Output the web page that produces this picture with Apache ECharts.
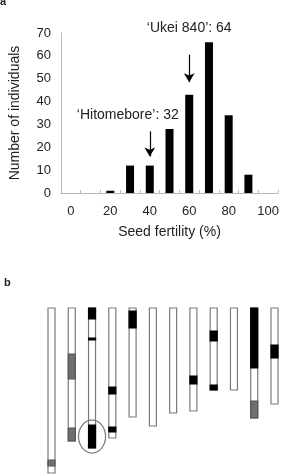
<!DOCTYPE html>
<html>
<head>
<meta charset="utf-8">
<style>
  html, body { margin: 0; padding: 0; background: #fff; }
  #main { width: 282px; height: 475px; }
</style>
<script src="https://cdn.jsdelivr.net/npm/echarts/dist/echarts.min.js"></script>
</head>
<body>
<div id="main"></div>
<script>
// panel a: histogram of seed fertility
var fertility = ['0', '10', '20', '30', '40', '50', '60', '70', '80', '90', '100'];
var individuals = [0, 0, 1, 12, 12, 28, 43, 66, 34, 8, 0];
var yTicks = [0, 10, 20, 30, 40, 50, 60, 70];

// panel b: chromosome bars, positions counted from the top
var chrNo = [1, 2, 3, 4, 5, 6, 7, 8, 9, 10, 11, 12];
var chrLength = [165, 133, 140, 130, 109, 118, 105, 103, 82, 82, 110, 96];
var blackSegs = [[3, 0, 11], [3, 30, 32], [3, 117, 140], [4, 79, 86], [4, 119, 124], [5, 3, 20],
                 [8, 68, 76], [9, 23, 33], [9, 77, 82], [11, 0, 60], [12, 37, 50]];
var graySegs = [[1, 152, 158], [2, 46, 71], [2, 120, 133], [11, 93, 110]];
var circled = [[3, 117, 140]];

var font = 'Liberation Sans, Arial, sans-serif';
var txt = '#222';
var axisGray = '#b8b8b8';

function chrRect(api, col, y0, y1, fill, stroke) {
    var p0 = api.coord([col, y0]);
    var p1 = api.coord([col, y1]);
    return {
        type: 'rect',
        shape: { x: p0[0] - 3.5, y: p0[1], width: 7, height: p1[1] - p0[1] },
        style: { fill: fill, stroke: stroke, lineWidth: 1.2 }
    };
}

var myChart = echarts.init(document.getElementById('main'), null, { renderer: 'canvas' });
var option = {
    backgroundColor: '#fff',
    animation: false,
    textStyle: { fontFamily: font },
    grid: [
        { left: 58, right: 4, top: 33, bottom: 282 },
        { left: 51.5, right: 7.5, top: 308, bottom: 1 }
    ],
    xAxis: [
        {
            gridIndex: 0,
            type: 'category',
            data: fertility,
            name: 'Seed fertility (%)',
            nameLocation: 'middle',
            nameGap: 32,
            nameTextStyle: { color: txt, fontSize: 14, fontFamily: font },
            axisLine: { lineStyle: { color: axisGray, width: 1 } },
            axisTick: { show: true, inside: true, length: 3, interval: 0, lineStyle: { color: axisGray } },
            axisLabel: { interval: 1, color: txt, fontSize: 13, margin: 12, fontFamily: font },
            splitLine: { show: false }
        },
        { gridIndex: 1, type: 'value', min: 1, max: 12, show: false }
    ],
    yAxis: [
        {
            gridIndex: 0,
            type: 'value',
            min: yTicks[0],
            max: yTicks[yTicks.length - 1],
            interval: 10,
            name: 'Number of individuals',
            nameLocation: 'middle',
            nameGap: 39,
            nameTextStyle: { color: txt, fontSize: 14, fontFamily: font },
            axisLine: { show: true, lineStyle: { color: axisGray, width: 1 } },
            axisTick: { show: false },
            axisLabel: { color: txt, fontSize: 13, margin: 10, fontFamily: font },
            splitLine: { show: false }
        },
        { gridIndex: 1, type: 'value', min: 0, max: 166, inverse: true, show: false }
    ],
    series: [
        {
            type: 'bar',
            xAxisIndex: 0,
            yAxisIndex: 0,
            data: individuals,
            barWidth: 8,
            itemStyle: { color: '#000' },
            markLine: {
                silent: true,
                symbol: ['none', 'arrow'],
                symbolSize: [8, 9],
                label: { show: false },
                lineStyle: { color: '#000', width: 1.2, type: 'solid' },
                data: [
                    [{ coord: ['40', 27] }, { coord: ['40', 16] }],
                    [{ coord: ['60', 60.5] }, { coord: ['60', 48.5] }]
                ]
            },
            markPoint: {
                silent: true,
                symbol: 'circle',
                symbolSize: 0,
                label: { show: true, color: txt, fontSize: 14, fontFamily: font },
                data: [
                    { coord: ['40', 34], label: { formatter: '\u2018Hitomebore\u2019: 32', offset: [-22, 0] } },
                    { coord: ['60', 69], label: { formatter: '\u2018Ukei 840\u2019: 64', offset: [0, -7] } }
                ]
            }
        },
        {
            // chromosome outlines
            type: 'custom',
            xAxisIndex: 1,
            yAxisIndex: 1,
            data: chrNo.map(function (c, i) { return [c, 0, chrLength[i]]; }),
            renderItem: function (params, api) {
                return chrRect(api, api.value(0), api.value(1), api.value(2), '#fff', '#7a7a7a');
            }
        },
        {
            type: 'custom',
            xAxisIndex: 1,
            yAxisIndex: 1,
            data: graySegs,
            renderItem: function (params, api) {
                return chrRect(api, api.value(0), api.value(1), api.value(2), '#6f6f6f', '#555');
            }
        },
        {
            type: 'custom',
            xAxisIndex: 1,
            yAxisIndex: 1,
            data: blackSegs,
            renderItem: function (params, api) {
                return chrRect(api, api.value(0), api.value(1), api.value(2), '#000', '#000');
            }
        },
        {
            // ellipse round the marked segment
            type: 'custom',
            xAxisIndex: 1,
            yAxisIndex: 1,
            data: circled,
            renderItem: function (params, api) {
                var c = api.coord([api.value(0), (api.value(1) + api.value(2)) / 2]);
                var pts = [];
                for (var k = 0; k < 48; k++) {
                    var a = k / 48 * Math.PI * 2;
                    pts.push([c[0] + 13.5 * Math.cos(a), c[1] + 16.5 * Math.sin(a)]);
                }
                return {
                    type: 'polygon',
                    shape: { points: pts },
                    style: { fill: 'none', stroke: '#777', lineWidth: 1.2 }
                };
            }
        }
    ],
    graphic: [
        { type: 'text', left: 0, top: -4, style: { text: 'a', fill: '#222', font: 'bold 11px ' + font } },
        { type: 'text', left: 4, top: 277, style: { text: 'b', fill: '#222', font: 'bold 11px ' + font } }
    ]
};

myChart.setOption(option);
</script>
</body>
</html>
